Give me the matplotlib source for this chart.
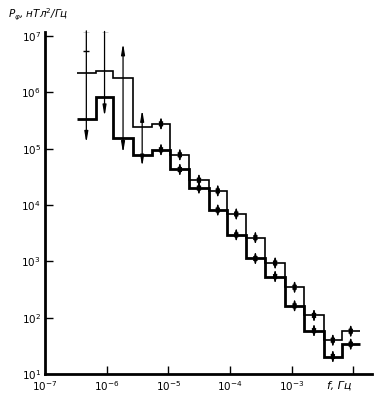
import numpy as np
import matplotlib
matplotlib.use("Agg")
import matplotlib.pyplot as plt

# bin edges, log10(f / Hz)
edges = [-6.48, -6.18, -5.89, -5.58, -5.27, -4.97, -4.66, -4.35, -4.05,
         -3.75, -3.43, -3.11, -2.80, -2.48, -2.19, -1.90]
# log10 of spectral density, nT^2/Hz
upper = [6.34, 6.38, 6.26, 5.39, 5.44, 4.89, 4.44, 4.25, 3.84, 3.42,
         2.97, 2.54, 2.04, 1.60, 1.76]
lower = [5.53, 5.92, 5.18, 4.89, 4.98, 4.63, 4.30, 3.91, 3.47, 3.05,
         2.73, 2.21, 1.77, 1.31, 1.53]
# big error bars in the first four bins (log10)
big_top = [7.09, 7.08, 6.87, 5.69]
big_bot = [5.10, 5.57, 4.92, 4.68]
big_cap = [True, True, False, False]   # T cap on top instead of arrow
small_err = 0.13                       # half size of the small bars, decades

fig = plt.figure(figsize=(3.77, 3.98), dpi=100)
ax = fig.add_axes([45/377, 24/398, 327/377, 342/398])
ax.set_xscale("log")
ax.set_yscale("log")
ax.set_xlim(1e-7, 10**-1.70)
ax.set_ylim(1e1, 10**7.07)

e = 10**np.array(edges)
ax.stairs(10**np.array(upper), e, baseline=None, color="black", lw=1.2)
ax.stairs(10**np.array(lower), e, baseline=None, color="black", lw=2.0)

centers = 10**((np.array(edges[:-1]) + np.array(edges[1:])) / 2)

for i in range(4):
    x = centers[i]
    style = "-|>,head_length=0.9,head_width=0.15" if big_cap[i] else \
        "<|-|>,head_length=0.9,head_width=0.15"
    ax.annotate("", xy=(x, 10**big_bot[i]), xytext=(x, 10**big_top[i]),
                arrowprops=dict(arrowstyle=style, lw=0.9, color="black",
                                shrinkA=0, shrinkB=0, mutation_scale=7))
    if big_cap[i]:
        ax.plot([x], [10**big_top[i]], marker="_", ms=5, mew=1.0, color="black")
# extra tick on the first bar
ax.plot([centers[0]], [10**6.73], marker="_", ms=4, mew=1.0, color="black")

for i in range(4, len(upper)):
    x = centers[i]
    for lv in (upper[i], lower[i]):
        ax.annotate("", xy=(x, 10**(lv - small_err)), xytext=(x, 10**(lv + small_err)),
                    arrowprops=dict(arrowstyle="<|-|>,head_length=0.8,head_width=0.2",
                                    lw=0.9, color="black", shrinkA=0, shrinkB=0,
                                    mutation_scale=6))

for s in ["top", "right"]:
    ax.spines[s].set_visible(False)
for s in ["left", "bottom"]:
    ax.spines[s].set_linewidth(2.0)

xt = [1e-7, 1e-6, 1e-5, 1e-4, 1e-3, 1e-2]
yt = [1e1, 1e2, 1e3, 1e4, 1e5, 1e6, 1e7]
ax.set_xticks(xt)
ax.set_yticks(yt)
ax.minorticks_off()
xlabels = [r"$\mathit{10^{%d}}$" % int(np.log10(v)) for v in xt]
xlabels[-1] = ""
ax.set_xticklabels(xlabels)
ax.set_yticklabels([r"$\mathit{10^{%d}}$" % int(np.log10(v)) for v in yt])
ax.tick_params(direction="in", length=6, width=1.0, labelsize=7.5, pad=3)
ax.tick_params(axis="x", pad=4)
ax.xaxis.get_major_ticks()[0].tick1line.set_visible(False)
ax.yaxis.get_major_ticks()[0].tick1line.set_visible(False)

fig.text(8/377, 1 - 15/398, r"$P_{\varphi}$, нТл$^2$/Гц", fontsize=7.5,
         style="italic", va="center", ha="left")
fig.text(327/377, 1 - 386/398, "f, Гц", fontsize=8, style="italic",
         va="center", ha="left")

fig.savefig("out.png", dpi=100)
